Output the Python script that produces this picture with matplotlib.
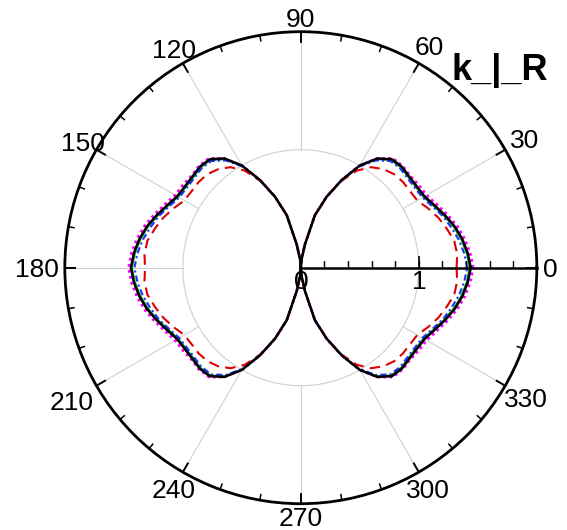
import numpy as np
import matplotlib

matplotlib.use("Agg")
import matplotlib.pyplot as plt
from matplotlib.transforms import offset_copy

plt.rcParams["font.family"] = ["Liberation Sans", "DejaVu Sans"]

# ── Data: one quadrant (0..90 deg, every 5 deg), curves are mirror-symmetric ──
angles_q = [0, 5, 10, 15, 20, 25, 30, 35, 40, 45, 50, 55, 60, 65, 70, 75, 80, 85, 90]
black_q = [1.44, 1.42, 1.39, 1.35, 1.30, 1.25, 1.21, 1.20, 1.20, 1.21, 1.20, 1.13,
           1.00, 0.82, 0.64, 0.46, 0.20, 0.07, 0.0]
magenta_q = [1.46, 1.44, 1.41, 1.37, 1.32, 1.27, 1.23, 1.22, 1.21, 1.22, 1.21, 1.13,
             1.00, 0.82, 0.64, 0.46, 0.20, 0.07, 0.0]
green_q = [1.43, 1.41, 1.38, 1.34, 1.29, 1.24, 1.20, 1.19, 1.19, 1.20, 1.19, 1.12,
           1.00, 0.82, 0.64, 0.46, 0.20, 0.07, 0.0]
blue_q = [1.41, 1.39, 1.36, 1.32, 1.28, 1.23, 1.19, 1.18, 1.18, 1.19, 1.18, 1.11,
          0.99, 0.82, 0.64, 0.46, 0.20, 0.07, 0.0]
red_q = [1.32, 1.33, 1.32, 1.28, 1.24, 1.19, 1.14, 1.13, 1.13, 1.12, 1.09, 1.04,
         0.95, 0.81, 0.64, 0.46, 0.20, 0.07, 0.0]

theta_ticks = [0, 30, 60, 90, 120, 150, 180, 210, 240, 270, 300, 330]
theta_labels = ["0", "30", "60", "90", "120", "150", "180", "210", "240", "270", "300", "330"]
# pixels beyond the outer circle at which each label's centre sits
label_gap = [13, 22, 20, 14, 17, 16, 28, 29, 19, 13, 19, 24]
r_ticks = [0, 1]
r_labels = ["0", "1"]
title = "k_|_R"
R_MAX = 2.0


def full_circle(q):
    q = list(q)
    return np.array(q + q[::-1][1:] + q[1:] + q[::-1][1:])


angles_full = np.concatenate([
    angles_q,
    [180 - a for a in angles_q[::-1][1:]],
    [180 + a for a in angles_q[1:]],
    [360 - a for a in angles_q[::-1][1:]],
])
th = np.deg2rad(angles_full)

# ── Figure ───────────────────────────────────────────────────────────────────
fig = plt.figure(figsize=(5.67, 5.30), dpi=100)
ax = fig.add_axes([0.1143, 0.0496, 0.8325, 0.8906], projection="polar")
ax.set_ylim(0, R_MAX)
ax.grid(False)
ax.set_yticks([])
ax.set_xticks([])
ax.spines["polar"].set_linewidth(2.0)

# gray grid: circle at r=1, spokes from r=1 to r=2
circ = np.linspace(0, 2 * np.pi, 361)
ax.plot(circ, np.ones_like(circ), color="#d0d0d0", lw=0.8, zorder=1)
for a in theta_ticks[1:]:
    ax.plot([np.deg2rad(a)] * 2, [1, R_MAX], color="#d0d0d0", lw=0.8, zorder=1)

# curves
ax.plot(th, full_circle(magenta_q), color="magenta", lw=2.0, ls=(0, (1, 1.2)), zorder=3)
ax.plot(th, full_circle(green_q), color="#00b000", lw=1.2, zorder=3)
ax.plot(th, full_circle(blue_q), color="#2030ff", lw=1.5, ls=(0, (3, 1.5, 1, 1.5)), zorder=4)
ax.plot(th, full_circle(red_q), color="#e00000", lw=1.5, ls=(0, (5, 3)), zorder=4)
ax.plot(th, full_circle(black_q), color="black", lw=1.8, zorder=5)

# radial axis along 0 deg
ax.plot([0, 0], [0, R_MAX], color="black", lw=1.8, zorder=6, clip_on=False)
minor_r = np.arange(0.2, R_MAX, 0.2)
ax.plot(np.zeros_like(minor_r), minor_r, ls="none", marker=2, ms=5, mew=1.0,
        color="black", zorder=6)
ax.plot([0, 0], [1, R_MAX], ls="none", marker=2, ms=9, mew=1.2, color="black", zorder=6)
lbl_tr = offset_copy(ax.transData, fig=fig, x=0, y=-2, units="dots")
for r, lab in zip(r_ticks, r_labels):
    ax.text(0, r, lab, transform=lbl_tr, ha="center", va="top", fontsize=19, zorder=7)

# angular ticks (inward), drawn in axes coordinates (circle radius 0.5)
for a in range(0, 360, 10):
    t = np.deg2rad(a)
    c, s = np.cos(t), np.sin(t)
    major = a % 30 == 0
    inner = 0.5 - (0.021 if major else 0.012)
    ax.plot([0.5 + inner * c, 0.5 + 0.5 * c], [0.5 + inner * s, 0.5 + 0.5 * s],
            transform=ax.transAxes, color="black", lw=1.4 if major else 1.1,
            zorder=7, clip_on=False)

for a, lab, gap in zip(theta_ticks, theta_labels, label_gap):
    t = np.deg2rad(a)
    c, s = np.cos(t), np.sin(t)
    tr = offset_copy(ax.transData, fig=fig, x=gap * c, y=gap * s, units="dots")
    ax.text(t, R_MAX, lab, transform=tr, ha="center", va="center_baseline",
            fontsize=19, clip_on=False)

fig.text(452 / 567, (530 - 80) / 530, title, fontsize=26, fontweight="bold",
         ha="left", va="baseline")

plt.savefig("out.png", dpi=100)
